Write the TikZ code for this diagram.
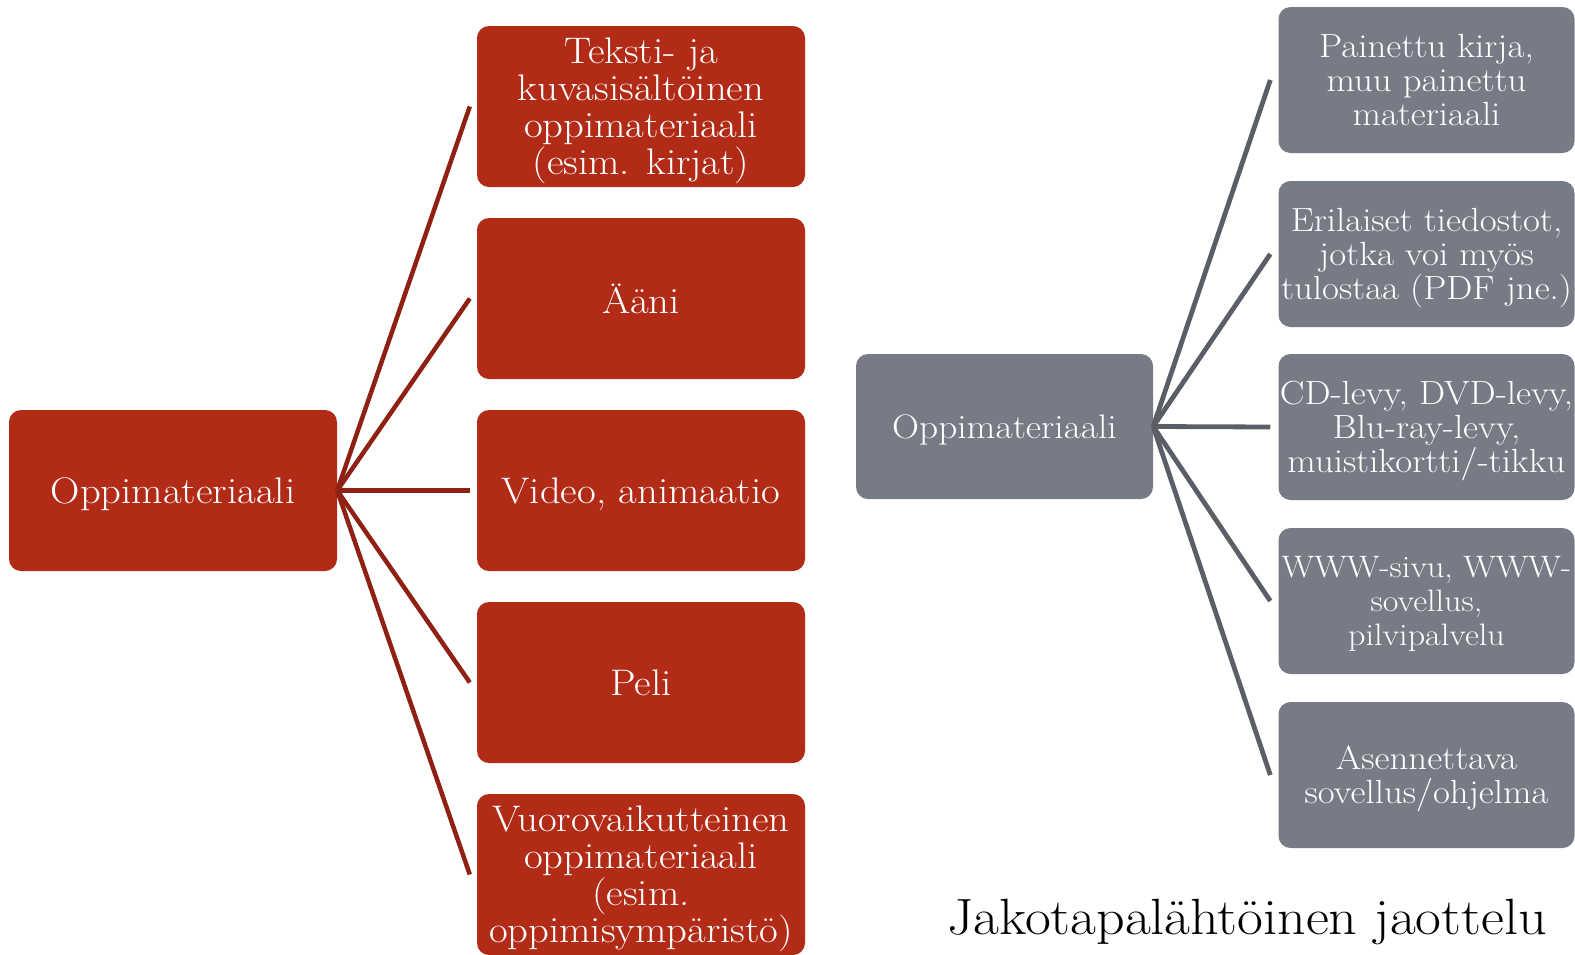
\documentclass[tikz,border=0pt]{standalone}
\usepackage{fontspec}
\setmainfont{Latin Modern Roman}[FakeStretch=1.1]
\definecolor{boxred}{HTML}{B12B17}
\definecolor{linered}{HTML}{8E2113}
\definecolor{boxgray}{HTML}{777B85}
\definecolor{linegray}{HTML}{5A5F67}
\tikzset{
  redbox/.style={fill=boxred, rounded corners=12pt, minimum width=328pt, minimum height=161pt,
    text=white, align=center, inner sep=0pt, text depth=0pt, font=\fontsize{37}{37}\selectfont},
  graybox/.style={fill=boxgray, rounded corners=12pt, minimum width=296pt, minimum height=146pt,
    text=white, align=center, inner sep=0pt, text depth=0pt, font=\fontsize{33.5}{34}\selectfont},
  redline/.style={draw=linered, line width=4.5pt},
  grayline/.style={draw=linegray, line width=4.8pt},
}
\begin{document}
\begin{tikzpicture}[x=1pt,y=-1pt]
\useasboundingbox (0,0) rectangle (1575,954);
% left tree
\node[redbox] (lroot) at (173,490.5) {Oppimateriaali};
\node[redbox] (l1) at (641,106.5) {Teksti- ja\\kuvasisältöinen\\oppimateriaali\\(esim. kirjat)};
\node[redbox] (l2) at (641,298.5) {Ääni};
\node[redbox] (l3) at (641,490.5) {Video, animaatio};
\node[redbox] (l4) at (641,682.5) {Peli};
\node[redbox] (l5) at (641,874.5) {Vuorovaikutteinen\\oppimateriaali\\(esim.\\oppimisympäristö)};
\foreach \c in {l1,l2,l3,l4,l5}
  \draw[redline] (lroot.east) -- ([xshift=-7pt]\c.west);
% right tree
\node[graybox, minimum width=297pt, minimum height=145pt, font=\fontsize{34}{34}\selectfont] (rroot) at (1004.5,426.5) {Oppimateriaali};
\node[graybox] (r1) at (1426.5,80) {Painettu kirja,\\muu painettu\\materiaali};
\node[graybox] (r2) at (1426.5,254) {Erilaiset tiedostot,\\jotka voi myös\\tulostaa (PDF jne.)};
\node[graybox] (r3) at (1426.5,427) {CD-levy, DVD-levy,\\Blu-ray-levy,\\muistikortti/-tikku};
\node[graybox, font=\fontsize{31}{34}\selectfont] (r4) at (1426.5,601) {WWW-sivu, WWW-\\sovellus,\\pilvipalvelu};
\node[graybox] (r5) at (1426.5,775) {Asennettava\\sovellus/ohjelma};
\foreach \c in {r1,r2,r3,r4,r5}
  \draw[grayline] (rroot.east) -- ([xshift=-8pt]\c.west);
% title
\node[anchor=base west, inner sep=0pt, font=\fontsize{51}{51}\selectfont] (title) at (947,934) {Jakotapalähtöinen jaottelu};
\end{tikzpicture}
\end{document}
